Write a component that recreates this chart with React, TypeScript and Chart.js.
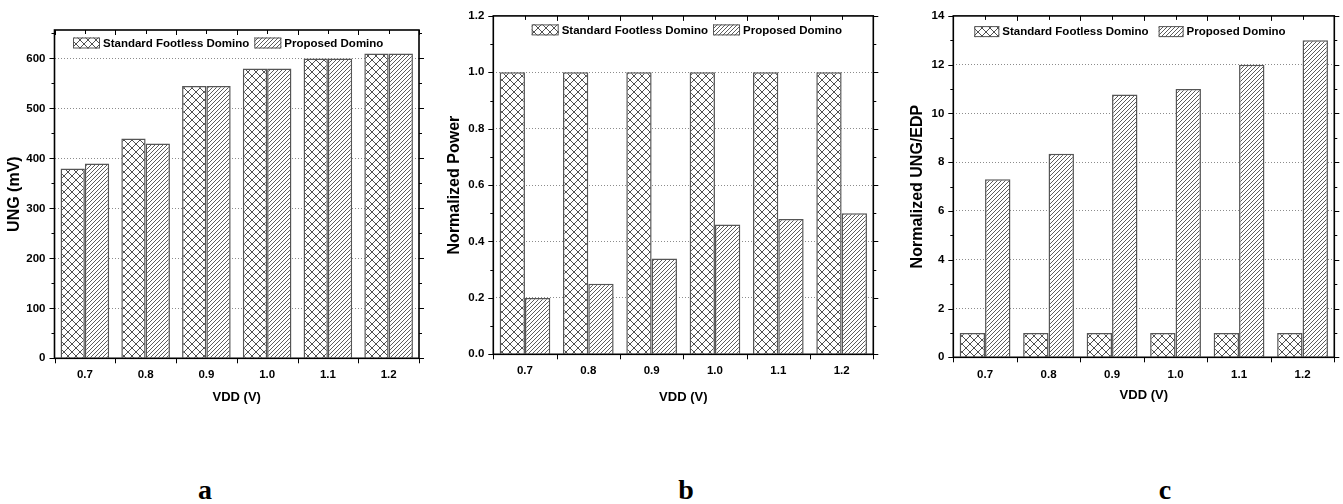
import React, { useEffect, useRef } from 'react';
import { Chart, registerables } from 'chart.js';

Chart.register(...registerables);

// ---------------- data ----------------
const categories = ['0.7', '0.8', '0.9', '1.0', '1.1', '1.2'];
const seriesNames = ['Standard Footless Domino', 'Proposed Domino'];

const ungStandard = [380, 440, 545, 580, 600, 610];
const ungProposed = [390, 430, 545, 580, 600, 610];

const powerStandard = [1, 1, 1, 1, 1, 1];
const powerProposed = [0.2, 0.25, 0.34, 0.46, 0.48, 0.5];

const edpStandard = [1, 1, 1, 1, 1, 1];
const edpProposed = [7.3, 8.35, 10.78, 11.0, 12.0, 13.0];

const ungTicks = [0, 100, 200, 300, 400, 500, 600];
const powerTicks = [0, 0.2, 0.4, 0.6, 0.8, 1.0, 1.2];
const edpTicks = [0, 2, 4, 6, 8, 10, 12, 14];

const yTitles = ['UNG (mV)', 'Normalized Power', 'Normalized UNG/EDP'];
const xTitle = 'VDD (V)';
const panelLetters = ['a', 'b', 'c'];

// ---------------- layout / style ----------------
const FONT = '"Liberation Sans", Arial, Helvetica, sans-serif';
const CANVAS_H = 420;

const panels = [
  {
    standard: ungStandard, proposed: ungProposed, ticks: ungTicks, yMax: 657, decimals: 0,
    yTitle: yTitles[0], left: 0, width: 440,
    area: { left: 54.5, top: 30, right: 419, bottom: 358.3 },
    yTitlePad: 5, xTitleCenter: 397, xTickPad: 10,
    legend: { x: 18.5, y: 13, gap: 5, box: 27 }, letterX: 205,
  },
  {
    standard: powerStandard, proposed: powerProposed, ticks: powerTicks, yMax: 1.2, decimals: 1,
    yTitle: yTitles[1], left: 430, width: 460,
    area: { left: 63.3, top: 12, right: 443.3, bottom: 354.3 },
    yTitlePad: 15, xTitleCenter: 397, xTickPad: 10,
    legend: { x: 38.4, y: 14, gap: 5, box: 27 }, letterX: 686,
  },
  {
    standard: edpStandard, proposed: edpProposed, ticks: edpTicks, yMax: 14, decimals: 0,
    yTitle: yTitles[2], left: 890, width: 453,
    area: { left: 63.3, top: 15, right: 444.3, bottom: 357.3 },
    yTitlePad: 18, xTitleCenter: 395, xTickPad: 11,
    legend: { x: 21, y: 15.7, gap: 10, box: 25 }, letterX: 1165,
  },
];

function makePattern(kind: 'cross' | 'diag'): CanvasPattern {
  const c = document.createElement('canvas');
  const s = kind === 'cross' ? 8 : 4;
  c.width = s;
  c.height = s;
  const g = c.getContext('2d')!;
  g.fillStyle = '#ffffff';
  g.fillRect(0, 0, s, s);
  g.strokeStyle = kind === 'cross' ? '#3c3c3c' : '#4a4a4a';
  g.lineWidth = 0.9;
  g.beginPath();
  if (kind === 'cross') {
    g.moveTo(0, 0); g.lineTo(s, s);
    g.moveTo(0, s); g.lineTo(s, 0);
  } else {
    g.moveTo(-1, s + 1); g.lineTo(s + 1, -1);
    g.moveTo(-1, 1); g.lineTo(1, -1);
    g.moveTo(s - 1, s + 1); g.lineTo(s + 1, s - 1);
  }
  g.stroke();
  return g.createPattern(c, 'repeat')!;
}

const framePlugin = {
  id: 'frame',
  afterDatasetsDraw(chart: any, _args: any, opts: any) {
    const { ctx, chartArea: a, scales } = chart;
    const x = scales.x, y = scales.y;
    const ticks: number[] = opts.ticks;
    const minor = (ticks[1] - ticks[0]) / 2;
    const n = Math.floor(y.max / minor + 1e-6);
    ctx.save();
    ctx.strokeStyle = '#000';
    ctx.lineWidth = 1;
    ctx.beginPath();
    for (let k = 0; k <= n; k++) {
      const py = Math.round(y.getPixelForValue(k * minor)) + 0.5;
      const len = k % 2 === 0 ? 5 : 3;
      ctx.moveTo(a.left - len, py); ctx.lineTo(a.left, py);
      ctx.moveTo(a.right, py); ctx.lineTo(a.right + len, py);
    }
    const count = chart.data.labels.length;
    for (let i = 0; i <= count; i++) {
      const px = Math.round(x.getPixelForValue(i - 0.5)) + 0.5;
      ctx.moveTo(px, a.bottom); ctx.lineTo(px, a.bottom + 5);
      ctx.moveTo(px, a.top); ctx.lineTo(px, a.top + 5);
    }
    for (let i = 0; i < count; i++) {
      const px = Math.round(x.getPixelForValue(i)) + 0.5;
      ctx.moveTo(px, a.top); ctx.lineTo(px, a.top + 4);
    }
    ctx.stroke();
    ctx.lineWidth = 1.6;
    ctx.strokeRect(a.left, a.top, a.right - a.left, a.bottom - a.top);
    ctx.restore();
  },
};

const insideLegendPlugin = {
  id: 'insideLegend',
  afterDraw(chart: any, _args: any, opts: any) {
    const { ctx, chartArea } = chart;
    ctx.save();
    ctx.font = `bold 11.5px ${FONT}`;
    ctx.textBaseline = 'middle';
    ctx.textAlign = 'left';
    let x = chartArea.left + opts.x;
    const y = chartArea.top + opts.y;
    chart.data.datasets.forEach((ds: any) => {
      ctx.fillStyle = ds.backgroundColor;
      ctx.fillRect(x, y - 5.5, opts.box, 11);
      ctx.strokeStyle = '#555';
      ctx.lineWidth = 1;
      ctx.strokeRect(x + 0.5, y - 5, opts.box - 1, 10);
      x += opts.box + 3;
      ctx.fillStyle = '#000';
      ctx.fillText(ds.label, x, y + 0.5);
      x += ctx.measureText(ds.label).width + opts.gap;
    });
    ctx.restore();
  },
};

function Panel({ cfg }: { cfg: any }) {
  const ref = useRef<HTMLCanvasElement>(null);
  useEffect(() => {
    const canvas = ref.current!;
    const cross = makePattern('cross');
    const diag = makePattern('diag');
    const titleFont = { family: FONT, weight: 'bold' as const, size: 13, lineHeight: 1.2 };
    const xTitlePadBottom = CANVAS_H - cfg.xTitleCenter - (13 * 1.2) / 2;
    const chart = new Chart(canvas, {
      type: 'bar',
      data: {
        labels: categories,
        datasets: [
          { label: seriesNames[0], data: cfg.standard, backgroundColor: cross, borderColor: '#555', borderWidth: 1.5 },
          { label: seriesNames[1], data: cfg.proposed, backgroundColor: diag, borderColor: '#555', borderWidth: 1.5 },
        ],
      },
      options: {
        responsive: false,
        animation: false,
        devicePixelRatio: 1,
        layout: { padding: { left: 0, top: cfg.area.top, right: cfg.width - cfg.area.right, bottom: 0 } },
        datasets: { bar: { categoryPercentage: 0.8, barPercentage: 1.0 } },
        plugins: {
          legend: { display: false },
          tooltip: { enabled: false },
          frame: { ticks: cfg.ticks },
          insideLegend: cfg.legend,
        } as any,
        scales: {
          x: {
            type: 'category',
            offset: true,
            grid: { display: false, drawTicks: false, tickLength: 0 },
            border: { display: false },
            ticks: {
              color: '#000', padding: cfg.xTickPad, maxRotation: 0, autoSkip: false,
              font: { family: FONT, weight: 'bold', size: 11.5 },
            },
            title: {
              display: true, text: xTitle, color: '#000', font: titleFont,
              padding: { top: 0, bottom: xTitlePadBottom },
            },
            afterFit: (s: any) => { s.height = CANVAS_H - cfg.area.bottom; },
          },
          y: {
            type: 'linear',
            min: 0,
            max: cfg.yMax,
            grid: {
              drawTicks: false,
              tickLength: 0,
              lineWidth: 1,
              color: (c: any) =>
                c.tick && (c.tick.value === 0 || c.tick.value >= cfg.yMax - 1e-9) ? 'rgba(0,0,0,0)' : '#8c8c8c',
            },
            border: { display: false, dash: [1, 2] },
            afterBuildTicks: (s: any) => { s.ticks = cfg.ticks.map((v: number) => ({ value: v })); },
            ticks: {
              color: '#000', padding: 9,
              font: { family: FONT, weight: 'bold', size: 11.5 },
              callback: (v: any) => Number(v).toFixed(cfg.decimals),
            },
            title: {
              display: true, text: cfg.yTitle, color: '#000',
              font: { family: FONT, weight: 'bold', size: 16, lineHeight: 1.2 },
              padding: { top: cfg.yTitlePad, bottom: 0 },
            },
            afterFit: (s: any) => { s.width = cfg.area.left; },
          },
        },
      } as any,
      plugins: [framePlugin, insideLegendPlugin],
    });
    return () => chart.destroy();
  }, []);
  return (
    <canvas
      ref={ref}
      width={cfg.width}
      height={CANVAS_H}
      style={{ position: 'absolute', left: cfg.left, top: 0, width: cfg.width, height: CANVAS_H }}
    />
  );
}

export default function App() {
  return (
    <div style={{ position: 'absolute', left: 0, top: 0, width: 1343, height: 504, background: '#fff', overflow: 'hidden' }}>
      {panels.map((p, i) => (
        <Panel key={i} cfg={p} />
      ))}
      {panels.map((p, i) => (
        <div
          key={'l' + i}
          style={{
            position: 'absolute', left: p.letterX - 30, width: 60, top: 475.6, textAlign: 'center',
            fontFamily: '"Liberation Serif", "Times New Roman", serif', fontWeight: 'bold',
            fontSize: 28, lineHeight: '28px', color: '#000',
          }}
        >
          {panelLetters[i]}
        </div>
      ))}
    </div>
  );
}
